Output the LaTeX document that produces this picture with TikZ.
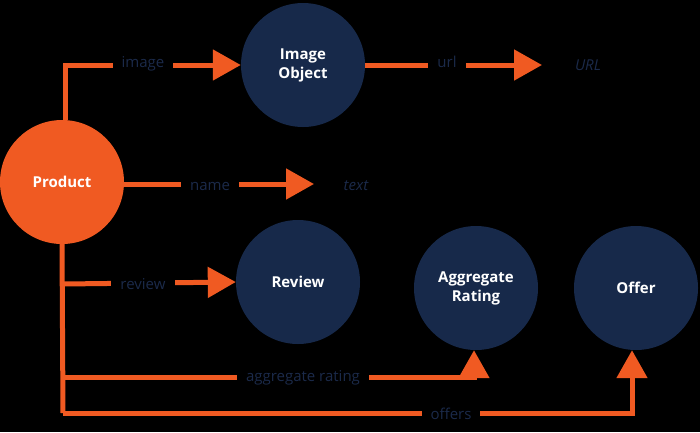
\documentclass[tikz,border=0pt]{standalone}
\usepackage{fontspec}
\setmainfont{Open Sans}
\usetikzlibrary{arrows.meta}
\definecolor{org}{HTML}{F05A22}
\definecolor{nav}{HTML}{17294A}
\definecolor{lab}{HTML}{1B2A4A}
\begin{document}
\begin{tikzpicture}[x=1pt,y=-1pt,
  circ/.style={circle,minimum size=124pt,inner sep=0pt,align=center,font=\bfseries\fontsize{15}{19}\selectfont,text=white},
  conn/.style={draw=org,line width=5pt,-{Triangle[length=28pt,width=30pt]}},
  plain/.style={draw=org,line width=5pt},
  lbl/.style={fill=black,text=lab,inner xsep=9pt,inner ysep=5pt,font=\fontsize{15}{18}\selectfont},
  ital/.style={text=lab,font=\itshape\fontsize{15}{18}\selectfont}]
\fill[black] (0,0) rectangle (700,432);
\useasboundingbox (0,0) rectangle (700,432);
\node[circ,fill=org] (prod) at (62,182) {Product};
\node[circ,fill=nav] (img) at (303,65) {Image\\Object};
\node[circ,fill=nav] (rev) at (298,282) {Review};
\node[circ,fill=nav] (agg) at (476,288) {Aggregate\\Rating};
\node[circ,fill=nav] (off) at (636,288) {Offer};
\node[ital] (url) at (588,65) {URL};
\node[ital] (txt) at (356,186) {text};
\coordinate (urlend) at (542,65);
\coordinate (txtend) at (314,184);
\coordinate (c1) at (63,377);
\coordinate (c2) at (63,413);
\coordinate (c3) at (63,284);
\draw[conn] ([xshift=3pt]prod.north) |- (img.west);
\draw[conn] (img.east) -- (urlend);
\draw[conn] (prod.east |- txtend) -- (txtend);
\draw[plain] (prod.south) -- (c2);
\draw[conn] (c3) -- (rev.west);
\draw[conn] (c1) -| ([xshift=-2pt]agg.south);
\draw[conn] (c2) -| ([xshift=-4pt]off.south);
\node[lbl] at (143,64) {image};
\node[lbl] at (447,62) {url};
\node[lbl] at (210,186) {name};
\node[lbl] at (143,284) {review};
\node[lbl] at (303,378) {aggregate rating};
\node[lbl] at (451,414) {offers};
\end{tikzpicture}
\end{document}
